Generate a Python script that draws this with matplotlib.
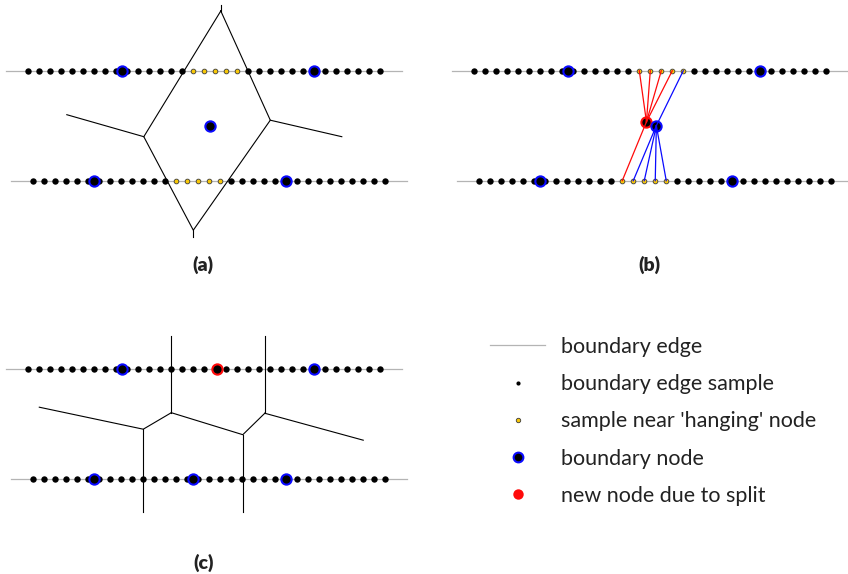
import numpy as np
import matplotlib.pyplot as plt
from matplotlib.lines import Line2D

plt.rcParams["font.family"] = ["Lato", "DejaVu Sans"]

# ---------------------------------------------------------------------------
# Diagram data, in "sample spacing" units (top row sample i sits at x = i, y = 0)
# ---------------------------------------------------------------------------
N_SAMPLES = 33
BOTTOM_SHIFT = 0.45          # bottom row samples sit slightly right of top ones
ROW_GAP = 10.0               # distance between the two boundary edges
EDGE_EXTENT = (-2.0, 34.0)   # grey boundary edge, in sample index

hanging_top = [15, 16, 17, 18, 19]
hanging_bottom = [13, 14, 15, 16, 17]

# (a) hanging node inside a diamond-shaped cell
a_nodes_top = [8.5, 26]
a_nodes_bottom = [5.5, 23]
a_inner_node = (16.5, -5.0)
a_cell_x = [17.5, 22.0, 15.0, 10.5, 17.5]
a_cell_y = [5.43, -4.5, -14.5, -6.0, 5.43]
a_branches = [
    ([17.5, 17.5], [6.0, 5.43]),
    ([15.0, 15.0], [-14.5, -15.1]),
    ([10.5, 3.5], [-6.0, -4.0]),
    ([22.0, 28.5], [-4.5, -6.0]),
]

# (b) hanging node split in two
b_nodes_top = [8.5, 26]
b_nodes_bottom = [5.5, 23]
b_red_node = (15.65, -4.65)
b_blue_node = (16.55, -5.0)
b_red_top = [15, 16, 17, 18]
b_red_bottom = [13]
b_blue_top = [19]
b_blue_bottom = [14, 15, 16, 17]

# (c) result after the split
c_nodes_top = [8.5, 26]
c_new_nodes_top = [17.2]
c_nodes_bottom = [5.5, 14.5, 23]
c_edges = [
    ([13.0, 13.0], [3.0, -4.0]),
    ([21.5, 21.5], [3.0, -4.05]),
    ([1.0, 10.45, 13.0], [-3.5, -5.5, -4.0]),
    ([10.45, 10.45], [-5.5, -13.0]),
    ([13.0, 19.5, 21.5], [-4.0, -6.0, -4.05]),
    ([19.5, 19.5], [-6.0, -13.0]),
    ([21.5, 30.45], [-4.05, -6.5]),
]

legend_labels = [
    "boundary edge",
    "boundary edge sample",
    "sample near 'hanging' node",
    "boundary node",
    "new node due to split",
]

# ---------------------------------------------------------------------------
# Styles
# ---------------------------------------------------------------------------
GREY = "#b4b4b4"
BLUE = "#0a0aff"
RED = "#ff0a0a"
GOLD = "#f8c808"
SAMPLE = dict(ls="none", marker="o", ms=4.6, mfc="black", mec="black", mew=0, zorder=3)
HANG = dict(ls="none", marker="o", ms=3.4, mfc=GOLD, mec="#3a3a3a", mew=0.6, zorder=3)
NODE = dict(ls="none", marker="o", ms=7.4, mfc="black", mec=BLUE, mew=1.5, zorder=5)
NEW = dict(ls="none", marker="o", ms=7.4, mfc="black", mec=RED, mew=1.5, zorder=5)
EDGE = dict(color="black", lw=0.8, zorder=2)

# px -> unit conversion of the whole canvas (11 px per sample spacing)
PX = 11.0
X0, Y0 = 28.3, 70.7
DX_B = 446 / PX          # panel (b) offset
DY_C = -298 / PX         # panel (c) offset


def draw_rows(ax, dx, dy, hanging, nodes_top, nodes_bottom, new_top=()):
    idx = np.arange(N_SAMPLES)
    for row_y, shift, hang, nodes in [
        (0.0, 0.0, hanging_top, nodes_top),
        (-ROW_GAP, BOTTOM_SHIFT, hanging_bottom, nodes_bottom),
    ]:
        ax.plot(np.array(EDGE_EXTENT) + shift + dx, [row_y + dy] * 2,
                color=GREY, lw=0.9, zorder=1)
        plain = [i for i in idx if not (hanging and i in hang)]
        ax.plot(np.array(plain) + shift + dx, np.full(len(plain), row_y + dy), **SAMPLE)
        if hanging:
            ax.plot(np.array(hang) + shift + dx, np.full(len(hang), row_y + dy), **HANG)
        ax.plot(np.array(nodes) + shift + dx, np.full(len(nodes), row_y + dy), **NODE)
    if len(new_top):
        ax.plot(np.array(new_top) + dx, np.full(len(new_top), dy), **NEW)


fig = plt.figure(figsize=(8.48, 5.74), dpi=100)
ax = fig.add_axes([0, 0, 1, 1])
ax.set_xlim(-X0 / PX, (848 - X0) / PX)
ax.set_ylim((Y0 - 574) / PX, Y0 / PX)
ax.set_aspect("auto")
ax.axis("off")

# (a)
draw_rows(ax, 0, 0, True, a_nodes_top, a_nodes_bottom)
ax.plot(a_cell_x, a_cell_y, **EDGE)
for xs, ys in a_branches:
    ax.plot(xs, ys, **EDGE)
ax.plot(*a_inner_node, **NODE)

# (b)
draw_rows(ax, DX_B, 0, True, b_nodes_top, b_nodes_bottom)
for node, tops, bots, col in [
    (b_red_node, b_red_top, b_red_bottom, RED),
    (b_blue_node, b_blue_top, b_blue_bottom, BLUE),
]:
    for t in tops:
        ax.plot([node[0] + DX_B, t + DX_B], [node[1], 0], color=col, lw=0.9, zorder=6)
    for b in bots:
        ax.plot([node[0] + DX_B, b + BOTTOM_SHIFT + DX_B], [node[1], -ROW_GAP],
                color=col, lw=0.9, zorder=6)
ax.plot(b_red_node[0] + DX_B, b_red_node[1], **NEW)
ax.plot(b_blue_node[0] + DX_B, b_blue_node[1], **NODE)

# (c)
draw_rows(ax, 0, DY_C, False, c_nodes_top, c_nodes_bottom, c_new_nodes_top)
for xs, ys in c_edges:
    ax.plot(xs, np.array(ys) + DY_C, **EDGE)

# panel labels
for lab, dx, dy in [("(a)", 0, 0), ("(b)", DX_B, 0), ("(c)", 0, DY_C)]:
    ax.text(15.9 + dx, -17.67 + dy, lab, ha="center", va="center",
            fontsize=14, fontweight="heavy", color="#222222")

# legend
handles = [
    Line2D([], [], color=GREY, lw=0.9),
    Line2D([], [], ls="none", marker="o", ms=3.0, mfc="black", mec="black", mew=0),
    Line2D([], [], ls="none", marker="o", ms=3.2, mfc=GOLD, mec="#3a3a3a", mew=0.6),
    Line2D([], [], ls="none", marker="o", ms=7.0, mfc="black", mec=BLUE, mew=1.5),
    Line2D([], [], ls="none", marker="o", ms=7.5, mfc=RED, mec=RED, mew=0),
]
fig.legend(handles, legend_labels, loc="upper left",
           bbox_to_anchor=(490 / 848, 1 - 337 / 574), frameon=False,
           fontsize=15.5, handlelength=2.56, handletextpad=0.76,
           labelspacing=0.8, borderpad=0, borderaxespad=0, labelcolor="#222222")

fig.savefig("out.png", dpi=100)
